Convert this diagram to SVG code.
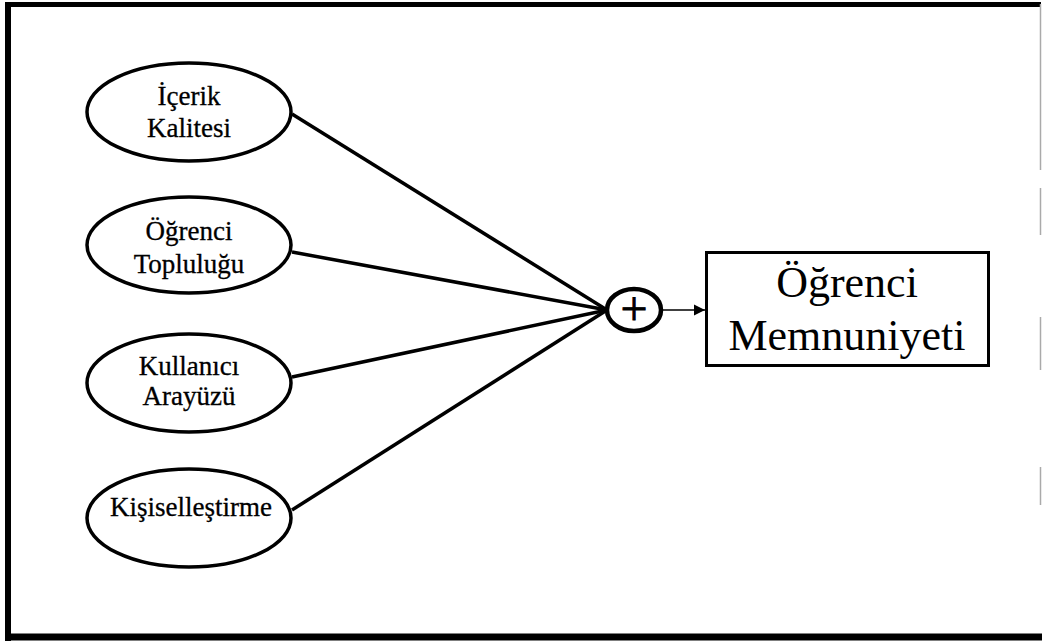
<svg xmlns="http://www.w3.org/2000/svg" width="1042" height="641" viewBox="0 0 1042 641">
<style>
.frame{fill:none;stroke:#000;stroke-width:6}
.node{fill:#fff;stroke:#000;stroke-width:3.5}
.lbl{font-family:"Liberation Serif","Times New Roman",serif;font-size:27px;fill:#000;stroke:#000;stroke-width:0.3;text-anchor:middle}
.big{font-family:"Liberation Serif","Times New Roman",serif;font-size:44px;fill:#000;text-anchor:middle}
.edge{stroke:#000;stroke-width:3.5;fill:none}
.thin{stroke:#000;stroke-width:1.5;fill:none}
.gray{stroke:#aaa;stroke-width:1.5}
</style>
<defs>
<marker id="arr" viewBox="0 0 10 10" refX="10" refY="5" markerWidth="11" markerHeight="13" markerUnits="userSpaceOnUse" orient="auto">
<path d="M0,0 L10,5 L0,10 Z" fill="#000"/>
</marker>
</defs>
<rect width="1042" height="641" fill="#fff"/>
<g id="frame">
<line class="frame" x1="8" y1="2" x2="8" y2="641"/>
<line x1="5" y1="4.5" x2="1041" y2="4.5" stroke="#000" stroke-width="5"/>
<line x1="5" y1="637" x2="1042" y2="637" stroke="#000" stroke-width="7"/>
<line class="gray" x1="1040.5" y1="4" x2="1040.5" y2="170"/>
<line class="gray" x1="1040.5" y1="188" x2="1040.5" y2="235"/>
<line class="gray" x1="1040.5" y1="317" x2="1040.5" y2="370"/>
<line class="gray" x1="1040.5" y1="467" x2="1040.5" y2="505"/>
</g>
<g id="connectors">
<line class="edge" x1="292" y1="114" x2="607" y2="310"/>
<line class="edge" x1="292" y1="252" x2="607" y2="310"/>
<line class="edge" x1="292" y1="377" x2="607" y2="310"/>
<line class="edge" x1="292" y1="510" x2="607" y2="310"/>
<line class="thin" x1="663" y1="310" x2="705" y2="310" marker-end="url(#arr)"/>
</g>
<g id="icerik">
<ellipse class="node" cx="189" cy="112" rx="102" ry="49"/>
<text class="lbl" x="189" y="105">İçerik</text>
<text class="lbl" x="189" y="137">Kalitesi</text>
</g>
<g id="ogrenci-toplulugu">
<ellipse class="node" cx="189" cy="245" rx="102" ry="48"/>
<text class="lbl" x="189" y="240">Öğrenci</text>
<text class="lbl" x="189" y="273">Topluluğu</text>
</g>
<g id="kullanici">
<ellipse class="node" cx="189" cy="383" rx="102" ry="49"/>
<text class="lbl" x="189" y="375">Kullanıcı</text>
<text class="lbl" x="189" y="405">Arayüzü</text>
</g>
<g id="kisisellestirme">
<ellipse class="node" cx="189" cy="518" rx="102" ry="49"/>
<text class="lbl" x="191" y="516" style="font-size:27px">Kişiselleştirme</text>
</g>
<g id="sum">
<ellipse cx="634" cy="310" rx="27" ry="21" fill="#fff" stroke="#000" stroke-width="4.5"/>
<text class="big" x="634" y="325" style="font-size:48px;stroke:#000;stroke-width:0.8">+</text>
</g>
<g id="memnuniyet">
<rect x="706.5" y="252.5" width="282" height="113" fill="#fff" stroke="#000" stroke-width="3"/>
<text class="big" x="847" y="297">Öğrenci</text>
<text class="big" x="847" y="350">Memnuniyeti</text>
</g>
</svg>
